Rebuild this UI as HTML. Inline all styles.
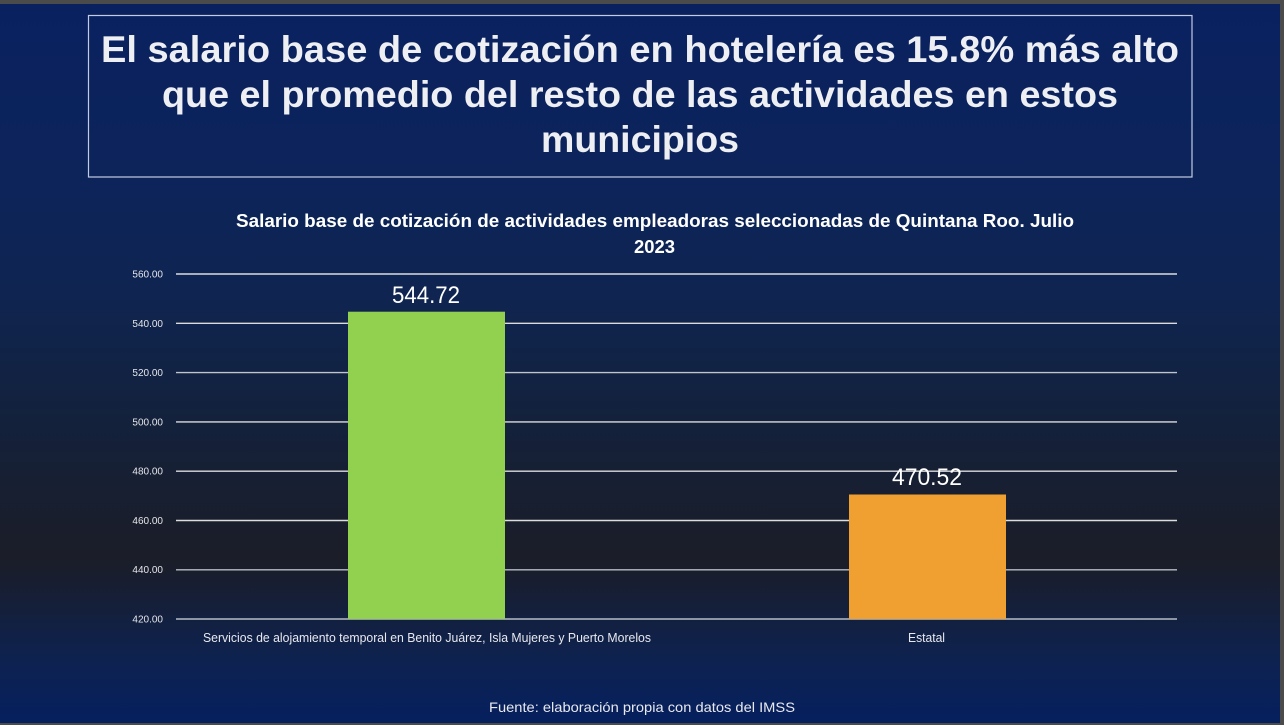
<!DOCTYPE html>
<html>
<head>
<meta charset="utf-8">
<style>
  html, body { margin:0; padding:0; width:1284px; height:725px; overflow:hidden; background:#4b4b4b; }
  svg { display:block; }
  text { font-family: "Liberation Sans", "DejaVu Sans", sans-serif; }
</style>
</head>
<body>
<svg width="1284" height="725" viewBox="0 0 1284 725" xmlns="http://www.w3.org/2000/svg">
  <defs>
    <linearGradient id="bg" x1="0" y1="0" x2="0" y2="725" gradientUnits="userSpaceOnUse">
      <stop offset="0" stop-color="#0a2160"/>
      <stop offset="0.25" stop-color="#0c245a"/>
      <stop offset="0.41" stop-color="#0f2450"/>
      <stop offset="0.55" stop-color="#12223f"/>
      <stop offset="0.66" stop-color="#171f33"/>
      <stop offset="0.77" stop-color="#1b1e28"/>
      <stop offset="0.84" stop-color="#141f3b"/>
      <stop offset="0.91" stop-color="#0e2250"/>
      <stop offset="1" stop-color="#05205f"/>
    </linearGradient>
  </defs>

  <!-- frame -->
  <rect x="0" y="0" width="1284" height="725" fill="#4b4b4b"/>
  <rect x="0" y="4" width="1280" height="719" fill="url(#bg)"/>

  <!-- title box -->
  <rect x="88.5" y="15.5" width="1103.5" height="161.5" fill="none" stroke="#c3cbe3" stroke-width="1.2"/>
  <g fill="#eeeff3" font-weight="bold" font-size="37">
    <text x="101" y="62" textLength="1078" lengthAdjust="spacingAndGlyphs">El salario base de cotización en hotelería es 15.8% más alto</text>
    <text x="162" y="107" textLength="956" lengthAdjust="spacingAndGlyphs">que el promedio del resto de las actividades en estos</text>
    <text x="541" y="152" textLength="198" lengthAdjust="spacingAndGlyphs">municipios</text>
  </g>

  <!-- chart title -->
  <g fill="#ffffff" font-weight="bold" font-size="18">
    <text x="236" y="227" textLength="838" lengthAdjust="spacingAndGlyphs">Salario base de cotización de actividades empleadoras seleccionadas de Quintana Roo. Julio</text>
    <text x="634" y="253" textLength="41" lengthAdjust="spacingAndGlyphs">2023</text>
  </g>

  <!-- gridlines -->
  <g stroke="#dcdcdc" stroke-width="1.4">
    <line x1="176" y1="274" x2="1177" y2="274"/>
    <line x1="176" y1="323.3" x2="1177" y2="323.3"/>
    <line x1="176" y1="372.6" x2="1177" y2="372.6" stroke="#c0c4cc"/>
    <line x1="176" y1="421.9" x2="1177" y2="421.9"/>
    <line x1="176" y1="471.2" x2="1177" y2="471.2"/>
    <line x1="176" y1="520.5" x2="1177" y2="520.5"/>
    <line x1="176" y1="569.8" x2="1177" y2="569.8" stroke="#b8bcc4"/>
    <line x1="176" y1="619" x2="1177" y2="619" stroke="#b8bcc4"/>
  </g>

  <!-- tick labels -->
  <g fill="#e6e6ea" font-size="10" text-anchor="end">
    <text x="163" y="277.5">560.00</text>
    <text x="163" y="326.8">540.00</text>
    <text x="163" y="376">520.00</text>
    <text x="163" y="425.3">500.00</text>
    <text x="163" y="474.6">480.00</text>
    <text x="163" y="523.9">460.00</text>
    <text x="163" y="573.2">440.00</text>
    <text x="163" y="622.5">420.00</text>
  </g>

  <!-- bars -->
  <rect x="348" y="311.7" width="157" height="307.3" fill="#92d050"/>
  <rect x="849" y="494.5" width="157" height="124.5" fill="#f0a030"/>

  <!-- data labels -->
  <g fill="#ffffff" font-size="24">
    <text x="392" y="303" textLength="68" lengthAdjust="spacingAndGlyphs">544.72</text>
    <text x="892" y="485" textLength="70" lengthAdjust="spacingAndGlyphs">470.52</text>
  </g>

  <!-- category labels -->
  <g fill="#e8e8ee" font-size="12.5">
    <text x="203" y="642" textLength="448" lengthAdjust="spacingAndGlyphs">Servicios de alojamiento temporal en Benito Juárez, Isla Mujeres y Puerto Morelos</text>
    <text x="908" y="642" textLength="37" lengthAdjust="spacingAndGlyphs">Estatal</text>
  </g>

  <!-- source -->
  <text x="489" y="712" fill="#e8e8ee" font-size="14" textLength="306" lengthAdjust="spacingAndGlyphs">Fuente: elaboración propia con datos del IMSS</text>
</svg>
</body>
</html>
